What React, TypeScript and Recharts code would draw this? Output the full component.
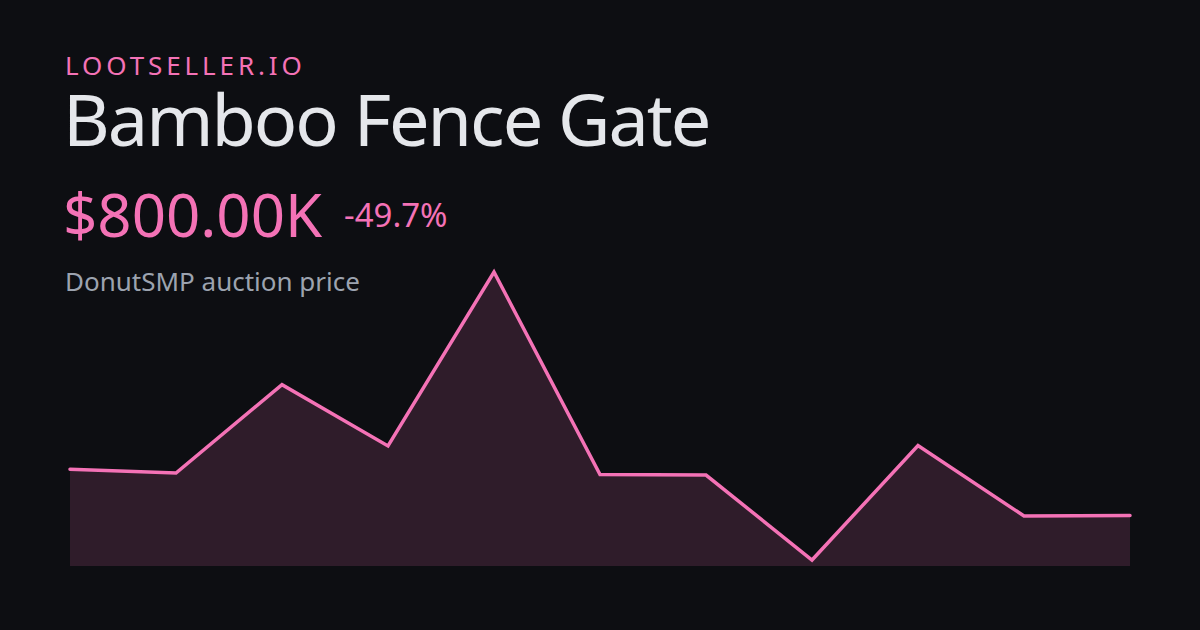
import React from 'react'
import { Area, AreaChart, XAxis, YAxis } from 'recharts'

// auction price samples, in thousands of dollars
const labels = ['1', '2', '3', '4', '5', '6', '7', '8', '9', '10', '11']
const prices = [1532, 1473, 2873, 1901, 4657, 1448, 1441, 95, 1907, 792, 800]

const brand = 'LOOTSELLER.IO'
const itemName = 'Bamboo Fence Gate'
const currentPrice = '$800.00K'
const change = '-49.7%'
const caption = 'DonutSMP auction price'

const chartData = labels.map((key, i) => ({ key, value: prices[i] }))

const font = '"Noto Sans", sans-serif'
const pink = '#f472b6'

const App = () => {
  return (
    <div style={{ position: 'absolute', left: 0, top: 0, width: 1200, height: 630, background: '#0d0e12', overflow: 'hidden' }}>
      <svg width={1200} height={630} style={{ position: 'absolute', left: 0, top: 0 }}>
        <text x={65} y={75} fill={pink} fontFamily={font} fontSize={26} letterSpacing={3.9}>{brand}</text>
        <text x={63} y={146} fill="#e5e7eb" fontFamily={font} fontSize={72} letterSpacing={-2}>{itemName}</text>
        <text x={63} y={237} fill={pink} fontFamily={font} fontSize={60}>{currentPrice}</text>
        <text x={344} y={227} fill={pink} fontFamily={font} fontSize={33}>{change}</text>
        <text x={65} y={291} fill="#9ca3af" fontFamily={font} fontSize={26}>{caption}</text>
      </svg>
      <div style={{ position: 'absolute', left: 0, top: 0 }}>
        <AreaChart width={1200} height={630} data={chartData} margin={{ top: 272, right: 70, bottom: 64, left: 70 }}>
          <XAxis dataKey="key" hide />
          <YAxis hide domain={[0, 'dataMax']} />
          <Area
            type="linear"
            dataKey="value"
            stroke={pink}
            strokeWidth={3.5}
            strokeLinecap="round"
            fill={pink}
            fillOpacity={0.15}
            dot={false}
            activeDot={false}
            isAnimationActive={false}
          />
        </AreaChart>
      </div>
    </div>
  )
}

export default App
